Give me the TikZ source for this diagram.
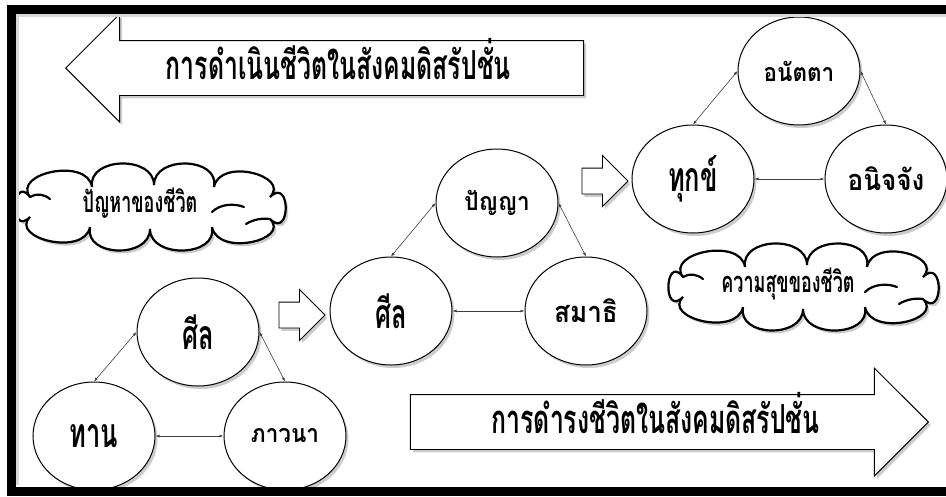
\documentclass[tikz,border=0pt]{standalone}
\usepackage{fontspec}
\newfontfamily\thaifont[Script=Thai,FakeStretch=0.62]{Loma}
\newfontfamily\thaiwide[Script=Thai,FakeStretch=0.9]{Loma}
\usepackage{tikz}
\usetikzlibrary{shapes,shadows,arrows.meta}

\begin{document}
\begin{tikzpicture}[x=1pt,y=-1pt,inner sep=0pt,
  shade/.style={drop shadow={shadow xshift=2.5pt,shadow yshift=-3pt,opacity=.4}},
  circ/.style={ellipse,draw=black,line width=1pt,fill=white,minimum width=122pt,minimum height=108pt,shade},
  big/.style={font=\thaifont\bfseries\fontsize{41}{41}\selectfont},
  mid/.style={font=\thaiwide\bfseries\fontsize{29}{29}\selectfont},
  small/.style={font=\thaiwide\bfseries\fontsize{25}{25}\selectfont},
  bigarrow/.style={single arrow,draw=black,line width=.9pt,fill=white,single arrow head extend=26.5pt,
    minimum height=518pt,text height=38pt,text depth=16pt,shade,
    font=\thaifont\bfseries\fontsize{40}{40}\selectfont},
  smallarrow/.style={single arrow,draw=black,line width=.9pt,fill=white,single arrow head extend=12.5pt,
    minimum height=46pt,inner ysep=12.5pt,shade},
  puff/.style={draw=black,line width=2.2pt,fill=white,shade},
  hook/.style={draw=black,line width=2.2pt,line cap=round},
  puffs/.style={font=\thaifont\bfseries\fontsize{29}{29}\selectfont},
  link/.style={draw=black!75,line width=.6pt,{Latex[length=4pt,width=3pt]}-{Latex[length=4pt,width=3pt]}}]
\useasboundingbox (0,0) rectangle (946,496);

\node at (65,68) [bigarrow,shape border rotate=180,anchor=tip] (ArrowTop) {การดำเนินชีวิตในสังคมดิสรัปชั่น};
\node at (929,422) [bigarrow,anchor=tip] (ArrowBottom) {การดำรงชีวิตในสังคมดิสรัปชั่น};

\foreach \cx/\cy in {150/207,803/287}
{
  \path [puff,shift={(\cx,\cy)}] (-120,-10)
    .. controls (-138,-34) and (-62.5,-50) .. (-58,-20)
    .. controls (-62.5,-50) and (4,-52) .. (4,-22)
    .. controls (4,-52) and (70,-50) .. (64,-20)
    .. controls (70,-50) and (141,-31) .. (120,-10)
    .. controls (141,-31) and (141,33) .. (120,12)
    .. controls (141,33) and (68,50) .. (62,20)
    .. controls (68,50) and (0,52) .. (0,22)
    .. controls (0,52) and (-66,50) .. (-60,20)
    .. controls (-66,50) and (-141,31) .. (-120,10)
    .. controls (-141,31) and (-138,-34) .. (-120,-10) -- cycle;
  \path [hook,shift={(\cx,\cy)}] (-120,-10) .. controls (-114,-14) and (-106,-13) .. (-100,-8);
  \path [hook,shift={(\cx,\cy)}] (62,5) .. controls (70,-3) and (84,-4) .. (94,0);
  \path [hook,shift={(\cx,\cy)}] (96,17) .. controls (104,12) and (113,11) .. (120,12);
}
\node at (140,203) [puffs] (CloudProblem) {ปัญหาของชีวิต};
\node at (788,284) [puffs] (CloudHappy) {ความสุขของชีวิต};

\node at (198,332) [circ,big] (NodeSila1) {ศีล};
\node at (94,436) [circ,big] (NodeTan) {ทาน};
\node at (285,436) [circ,small] (NodePhawana) {ภาวนา};
\node at (391,311) [circ,big] (NodeSila2) {ศีล};
\node at (497,203) [circ,small] (NodePanya) {ปัญญา};
\node at (586,311) [circ,mid] (NodeSamathi) {สมาธิ};
\node at (693,179) [circ,big] (NodeTuk) {ทุกข์};
\node at (799,71) [circ,small] (NodeAnatta) {อนัตตา};
\node at (886,179) [circ,mid] (NodeAnijjang) {อนิจจัง};

\node at (295.5,315) [smallarrow] (Step1) {};
\node at (598.5,181) [smallarrow] (Step2) {};

\draw [link] (NodeSila1.west) -- (NodeTan.north);
\draw [link] (NodeSila1.east) -- (NodePhawana.north);
\draw [link] (NodeTan.east) -- (NodePhawana.west);
\draw [link] (NodePanya.west) -- (NodeSila2.north);
\draw [link] (NodePanya.east) -- (NodeSamathi.north);
\draw [link] (NodeSila2.east) -- (NodeSamathi.west);
\draw [link] (NodeAnatta.west) -- (NodeTuk.north);
\draw [link] (NodeAnatta.east) -- (NodeAnijjang.north);
\draw [link] (NodeTuk.east) -- (NodeAnijjang.west);

\draw [black!15,line width=3pt] (946,15) -- (17.5,15) -- (17.5,485);
\draw [line width=9pt] (946,9) -- (11.5,9) -- (11.5,491.5) -- (946,491.5);

\end{tikzpicture}
\end{document}
